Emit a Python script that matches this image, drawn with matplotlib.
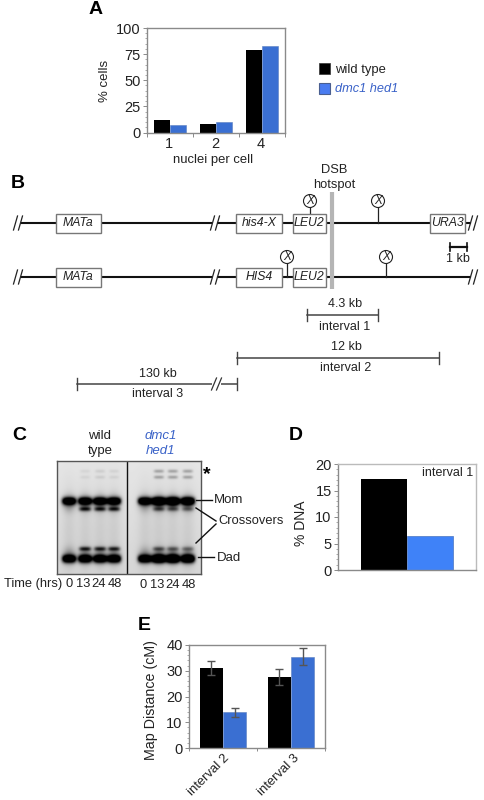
import matplotlib
matplotlib.use('Agg')
import matplotlib.pyplot as plt
from matplotlib.patches import Rectangle, Circle
from matplotlib.ticker import MultipleLocator
import numpy as np

plt.rcParams['font.family'] = ['Liberation Sans', 'DejaVu Sans']
W, H = 485, 800

BLACK = '#000000'
BLUE = '#3a6fd2'
BLUE_D = '#3f82f8'
TXT_BLUE = '#3a62c8'
GREY = '#8a8a8a'
TXT = '#222222'

# --- data
nuclei = ['1', '2', '4']
a_wt = [11.5, 8.5, 78.5]
a_mut = [7, 9.7, 82.5]

d_wt = [17.2]
d_mut = [6.4]

intervals = ['interval 2', 'interval 3']
e_wt = [31, 27.5]
e_mut = [13.8, 35.5]
e_wt_err = [2.7, 3.2]
e_mut_err = [1.8, 3.2]

lanes_wt = [69, 85, 100, 114]
lanes_mut = [145, 159, 173, 188]
time_labels = ['0', '13', '24', '48']
# band strength per lane, wild type then mutant
mom_wt = [1.0, 1.0, 1.0, 1.0]
mom_mut = [1.0, 1.25, 1.25, 1.15]
dad_wt = [1.0, 1.0, 1.0, 1.0]
dad_mut = [1.0, 1.25, 1.25, 1.15]
xo_wt = [0.0, 0.62, 0.6, 0.6]
xo_mut = [0.0, 0.4, 0.35, 0.3]
star_wt = [0.0, 0.05, 0.08, 0.06]
star_mut = [0.0, 0.25, 0.25, 0.25]


def axes_px(x0, y0, x1, y1):
    return fig.add_axes([x0 / W, 1 - y1 / H, (x1 - x0) / W, (y1 - y0) / H])


def style(ax):
    for s in ax.spines.values():
        s.set_color(GREY)
        s.set_linewidth(1.0)
    ax.tick_params(axis='y', which='major', length=3, width=0.7, color=GREY, labelsize=10.5,
                   labelcolor=TXT, pad=1.5)
    ax.tick_params(axis='y', which='minor', length=1.5, width=0.5, color=GREY)


fig = plt.figure(figsize=(W / 100, H / 100), dpi=100)

# --- A
ax = axes_px(147, 28, 285, 132.5)
x = np.arange(3)
ax.bar(x - 0.17, a_wt, 0.34, color=BLACK)
ax.bar(x + 0.17, a_mut, 0.34, color=BLUE, edgecolor='#5a7fc0', linewidth=0.4)
ax.set_xlim(-0.5, 2.5)
ax.set_ylim(0, 100)
ax.set_yticks([0, 25, 50, 75, 100])
ax.yaxis.set_minor_locator(MultipleLocator(5))
ax.set_xticks([-0.5, 0.5, 1.5, 2.5])
ax.set_xticklabels([])
ax.tick_params(axis='x', length=3, width=0.7, color=GREY)
style(ax)
ax.set_ylabel('% cells', fontsize=9.5, color=TXT)
ax.yaxis.set_label_coords((111 - 147) / 138, 0.49)

# --- D
ax = axes_px(338, 464, 476, 570)
ax.bar([-1 / 6], d_wt, 1 / 3, color=BLACK)
ax.bar([1 / 6], d_mut, 1 / 3, color=BLUE_D, edgecolor='#4a74c0', linewidth=0.5)
ax.set_xlim(-0.5, 0.5)
ax.set_ylim(0, 20)
ax.set_yticks([0, 5, 10, 15, 20])
ax.yaxis.set_minor_locator(MultipleLocator(1))
ax.set_xticks([])
style(ax)
ax.spines['top'].set_color('#bbbbbb')
ax.spines['right'].set_color('#bbbbbb')
ax.set_ylabel('% DNA', fontsize=10, color=TXT)
ax.yaxis.set_label_coords((308 - 338) / 138, 1 - (523 - 464) / 106)
ax.text(0.98, 0.915, 'interval 1', transform=ax.transAxes, ha='right', va='center', fontsize=9, color=TXT)

# --- E
ax = axes_px(189, 645, 325, 748)
x = np.arange(2)
ax.bar(x - 0.17, e_wt, 0.34, color=BLACK)
ax.bar(x + 0.17, e_mut, 0.34, color=BLUE, edgecolor='#5a7fc0', linewidth=0.4)
ax.errorbar(x - 0.17, e_wt, yerr=e_wt_err, fmt='none', ecolor='#555555', elinewidth=1, capsize=3, capthick=1)
ax.errorbar(x + 0.17, e_mut, yerr=e_mut_err, fmt='none', ecolor='#555555', elinewidth=1, capsize=3, capthick=1)
ax.set_xlim(-0.5, 1.5)
ax.set_ylim(0, 40)
ax.set_yticks([0, 10, 20, 30, 40])
ax.yaxis.set_minor_locator(MultipleLocator(2))
ax.set_xticks([-0.5, 0.5, 1.5])
ax.set_xticklabels([])
ax.tick_params(axis='x', length=2, width=0.7, color=GREY)
style(ax)
ax.set_ylabel('Map Distance (cM)', fontsize=10.3, color=TXT)
ax.yaxis.set_label_coords((158 - 189) / 136, 0.47)

# --- C gel
gel = axes_px(57, 461, 201, 574)
xs, ys = np.meshgrid(np.linspace(57, 201, 288), np.linspace(461, 574, 226))
dens = 0.10 + 0.06 * (ys - 461) / 113


def band(cx, cy, strength, sx, sy):
    return strength * np.exp(-((xs - cx) / sx) ** 4 - ((ys - cy) / sy) ** 2)


for lanes, mom, dad, xo, star in [(lanes_wt, mom_wt, dad_wt, xo_wt, star_wt),
                                  (lanes_mut, mom_mut, dad_mut, xo_mut, star_mut)]:
    for i, cx in enumerate(lanes):
        dens = dens + 0.06 * np.exp(-((xs - cx) / 7) ** 2) * np.exp(-((ys - 530) / 45) ** 2)
        dens = dens + band(cx, 501, 1.3 * mom[i], 7, 3.6) + band(cx, 559, 1.3 * dad[i], 7, 3.8)
        dens = dens + 0.35 * mom[i] * np.exp(-((xs - cx) / 6) ** 2 - ((ys - 503) / 8) ** 2)
        dens = dens + 0.3 * dad[i] * np.exp(-((xs - cx) / 6) ** 2 - ((ys - 556) / 8) ** 2)
        dens = dens + band(cx, 509, xo[i], 6, 2.2) + band(cx, 549, xo[i], 6, 2.2)
        dens = dens + band(cx, 471, star[i], 5, 1.7) + band(cx, 477, star[i], 5, 1.7)
img = np.clip(1 - dens, 0, 1)
gel.imshow(img, cmap='gray', vmin=0, vmax=1, extent=[57, 201, 574, 461], aspect='auto', interpolation='bilinear')
gel.axvline(127, color='#111111', lw=1)
gel.set_xticks([])
gel.set_yticks([])
for s in gel.spines.values():
    s.set_color('#555555')
    s.set_linewidth(1)

# --- overlay in pixel coordinates
ov = fig.add_axes([0, 0, 1, 1], zorder=5)
ov.set_xlim(0, W)
ov.set_ylim(H, 0)
ov.axis('off')
ov.patch.set_alpha(0)


def t(px, py, s, size=10, color=TXT, **kw):
    kw.setdefault('ha', 'center')
    kw.setdefault('va', 'center')
    ov.text(px, py, s, fontsize=size, color=color, **kw)


for px, py, s in [(96, 10, 'A'), (18, 183, 'B'), (19, 435, 'C'), (296, 435, 'D'), (144, 625, 'E')]:
    t(px, py, s, size=14, color='black', fontweight='bold')

# panel A labels
for px, s in zip([169, 215, 261], nuclei):
    t(px, 144, s, size=10.5)
t(213, 160, 'nuclei per cell', size=9.4)
ov.add_patch(Rectangle((319, 63), 11, 11, fc=BLACK, ec='#333333', lw=0.5))
ov.add_patch(Rectangle((319, 83), 11, 11, fc='#4a7cf0', ec='#4a5f90', lw=0.8))
t(335, 70, 'wild type', size=9.4, ha='left')
t(335, 89, 'dmc1 hed1', size=9.2, ha='left', color=TXT_BLUE, style='italic')

# panel B map
t(334, 170, 'DSB', size=9.3)
t(334, 185, 'hotspot', size=9.3)
for row_y in [223, 277]:
    ov.plot([22, 211], [row_y, row_y], color='#111111', lw=1.5, zorder=1)
    ov.plot([218, 470], [row_y, row_y], color='#111111', lw=1.5, zorder=1)
    for bx in [17, 214, 472]:
        ov.plot([bx - 3.5, bx + 0.5], [row_y + 7, row_y - 7], color='#222222', lw=0.9)
        ov.plot([bx + 1.5, bx + 5.5], [row_y + 7, row_y - 7], color='#222222', lw=0.9)
ov.plot([332, 332], [192, 289], color='#b5b5b5', lw=3, zorder=2, solid_capstyle='butt')

boxes = [(56, 101, 223, 'MATa'), (236, 282, 223, 'his4-X'), (293, 326, 223, 'LEU2'), (430, 465, 223, 'URA3'),
         (56, 101, 277, 'MATa'), (236, 282, 277, 'HIS4'), (293, 326, 277, 'LEU2')]
for x0, x1, cy, s in boxes:
    ov.add_patch(Rectangle((x0, cy - 9.5), x1 - x0, 19, fc='white', ec='#777777', lw=1, zorder=3))
    t((x0 + x1) / 2, cy, s, size=8.8, style='italic', zorder=4)

for cx, cy, ly in [(310, 201, 214), (378, 201, 223), (287, 257, 277), (386, 257, 277)]:
    ov.plot([cx, cx], [cy + 6, ly], color='#222222', lw=0.9, zorder=2)
    ov.add_patch(Circle((cx, cy), 6.5, fc='white', ec='#222222', lw=0.8, zorder=3))
    t(cx, cy, 'X', size=8.5, style='italic', zorder=4)

ov.plot([450, 467], [247, 247], color='#111111', lw=1.6)
ov.plot([450, 450], [243, 251], color='#111111', lw=1.2)
ov.plot([467, 467], [243, 251], color='#111111', lw=1.2)
t(458, 259, '1 kb', size=9)

for x0, x1, ly, mid, top_s, bot_s, ty, by in [(307, 378, 315, 345, '4.3 kb', 'interval 1', 304, 327),
                                              (237, 439, 358, 346, '12 kb', 'interval 2', 347, 368),
                                              (77, 237, 384, 158, '130 kb', 'interval 3', 374, 394)]:
    ov.plot([x0, x1], [ly, ly], color='#444444', lw=1.1)
    ov.plot([x0, x0], [ly - 6, ly + 6], color='#444444', lw=1)
    ov.plot([x1, x1], [ly - 6, ly + 6], color='#444444', lw=1)
    t(mid, ty, top_s, size=9)
    t(mid, by, bot_s, size=9)
ov.add_patch(Rectangle((212, 378), 9, 12, fc='white', ec='none', zorder=3))
for bx in [214, 219]:
    ov.plot([bx - 2.5, bx + 2.5], [390, 378], color='#333333', lw=0.9, zorder=4)

# panel C labels
t(100, 436, 'wild', size=9.5)
t(100, 451, 'type', size=9.5)
t(161, 436, 'dmc1', size=9.5, color=TXT_BLUE, style='italic')
t(161, 451, 'hed1', size=9.5, color=TXT_BLUE, style='italic')
t(207, 475, '*', size=14, color='black', fontweight='bold')
t(214, 500, 'Mom', size=9.5, ha='left')
t(218, 521, 'Crossovers', size=9.3, ha='left')
t(217, 558, 'Dad', size=9.5, ha='left')
ov.plot([196, 212], [500, 500], color='#111111', lw=1)
ov.plot([198, 214], [557, 557], color='#111111', lw=1)
ov.plot([196, 216], [508, 521], color='#111111', lw=1)
ov.plot([196, 216], [543, 524], color='#111111', lw=1)
t(4, 584, 'Time (hrs)', size=9.3, ha='left')
for px, s in zip([69, 83, 99, 115], time_labels):
    t(px, 584, s, size=9.3)
for px, s in zip([143, 157, 173, 189], time_labels):
    t(px, 585, s, size=9.3)

# panel E x labels
for px, s in zip([209, 279], intervals):
    t(px, 775, s, size=9.4, rotation=45)

fig.savefig('out.png', dpi=100)
